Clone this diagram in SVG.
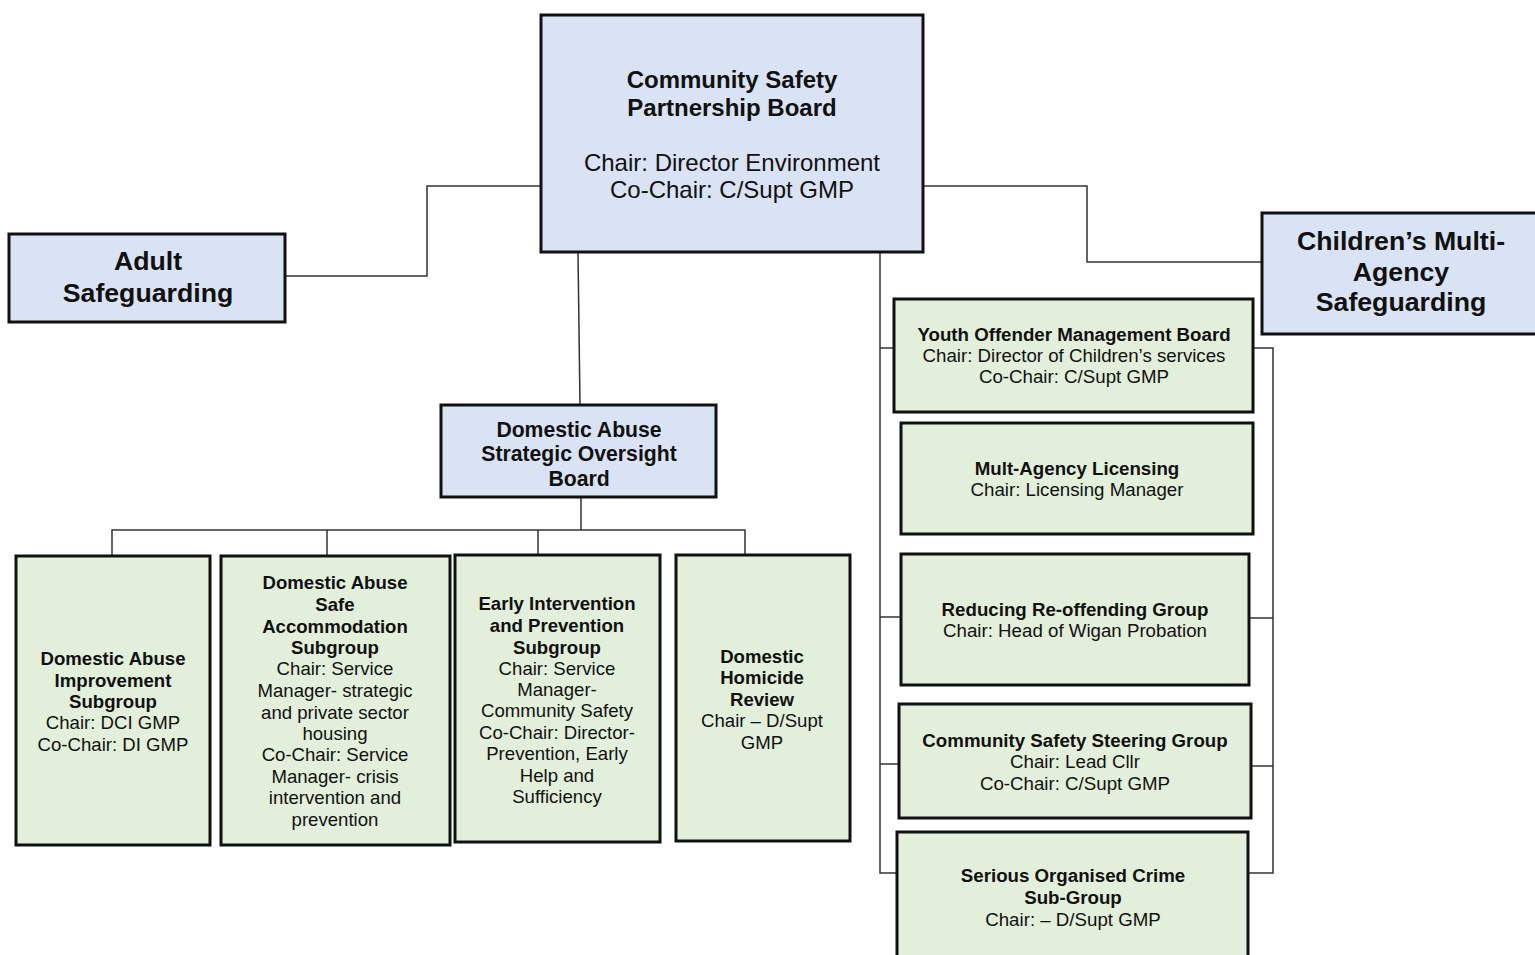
<svg xmlns="http://www.w3.org/2000/svg" width="1535" height="955" viewBox="0 0 1535 955">
<style>
  .blue{fill:#dae3f3;stroke:#111;stroke-width:3}
  .green{fill:#e2efda;stroke:#111;stroke-width:3}
  .conn{fill:none;stroke:#333;stroke-width:1.5}
  text{font-family:"Liberation Sans",Arial,sans-serif;fill:#111;text-anchor:middle}
  .b{font-weight:bold}
  .t26{font-size:26.7px}
  .t22{font-size:24px}
  .t20{font-size:21.2px}
  .t18{font-size:18.6px}
  .t17{font-size:18.7px}
</style>
<rect width="1535" height="955" fill="#fff"/>
<g id="connectors">
  <polyline class="conn" points="286,276 427,276 427,186 541,186"/>
  <polyline class="conn" points="923,186 1087,186 1087,262 1262,262"/>
  <line class="conn" x1="578" y1="253" x2="580" y2="405"/>
  <line class="conn" x1="581" y1="498" x2="581" y2="530"/>
  <polyline class="conn" points="112,556 112,530 745,530 745,555"/>
  <line class="conn" x1="327" y1="530" x2="327" y2="556"/>
  <line class="conn" x1="538" y1="530" x2="538" y2="555"/>
  <polyline class="conn" points="880,253 880,873 897,873"/>
  <line class="conn" x1="880" y1="348" x2="894" y2="348"/>
  <line class="conn" x1="880" y1="617" x2="901" y2="617"/>
  <line class="conn" x1="880" y1="764" x2="899" y2="764"/>
  <polyline class="conn" points="1253,348 1273,348 1273,873 1248,873"/>
  <line class="conn" x1="1249" y1="618" x2="1273" y2="618"/>
  <line class="conn" x1="1251" y1="766" x2="1273" y2="766"/>
</g>
<g id="csp-board">
  <rect class="blue" x="541" y="15" width="382" height="237"/>
  <text class="t22"><tspan class="b" x="732" y="88">Community Safety</tspan><tspan class="b" x="732" y="116">Partnership Board</tspan><tspan x="732" y="171">Chair: Director Environment</tspan><tspan x="732" y="198">Co-Chair: C/Supt GMP</tspan></text>
</g>
<g id="adult-safeguarding">
  <rect class="blue" x="9" y="234" width="276" height="88"/>
  <text class="t26 b"><tspan x="148" y="270">Adult</tspan><tspan x="148" y="302">Safeguarding</tspan></text>
</g>
<g id="childrens-safeguarding">
  <rect class="blue" x="1262" y="213" width="280" height="121"/>
  <text class="t26 b"><tspan x="1401" y="250">Children’s Multi-</tspan><tspan x="1401" y="281">Agency</tspan><tspan x="1401" y="311">Safeguarding</tspan></text>
</g>
<g id="dasob">
  <rect class="blue" x="441" y="405" width="275" height="92"/>
  <text class="t20 b"><tspan x="579" y="437">Domestic Abuse</tspan><tspan x="579" y="461">Strategic Oversight</tspan><tspan x="579" y="486">Board</tspan></text>
</g>
<g id="dais">
  <rect class="green" x="16" y="556" width="194" height="289"/>
  <text class="t18"><tspan class="b" x="113" y="665">Domestic Abuse</tspan><tspan class="b" x="113" y="687">Improvement</tspan><tspan class="b" x="113" y="708">Subgroup</tspan><tspan x="113" y="729">Chair: DCI GMP</tspan><tspan x="113" y="751">Co-Chair: DI GMP</tspan></text>
</g>
<g id="dasas">
  <rect class="green" x="221" y="556" width="229" height="289"/>
  <text class="t18"><tspan class="b" x="335" y="589">Domestic Abuse</tspan><tspan class="b" x="335" y="611">Safe</tspan><tspan class="b" x="335" y="633">Accommodation</tspan><tspan class="b" x="335" y="654">Subgroup</tspan><tspan x="335" y="675">Chair: Service</tspan><tspan x="335" y="697">Manager- strategic</tspan><tspan x="335" y="719">and private sector</tspan><tspan x="335" y="740">housing</tspan><tspan x="335" y="761">Co-Chair: Service</tspan><tspan x="335" y="783">Manager- crisis</tspan><tspan x="335" y="804">intervention and</tspan><tspan x="335" y="826">prevention</tspan></text>
</g>
<g id="eips">
  <rect class="green" x="455" y="555" width="205" height="287"/>
  <text class="t18"><tspan class="b" x="557" y="610">Early Intervention</tspan><tspan class="b" x="557" y="632">and Prevention</tspan><tspan class="b" x="557" y="654">Subgroup</tspan><tspan x="557" y="675">Chair: Service</tspan><tspan x="557" y="696">Manager-</tspan><tspan x="557" y="717">Community Safety</tspan><tspan x="557" y="739">Co-Chair: Director-</tspan><tspan x="557" y="760">Prevention, Early</tspan><tspan x="557" y="782">Help and</tspan><tspan x="557" y="803">Sufficiency</tspan></text>
</g>
<g id="dhr">
  <rect class="green" x="676" y="555" width="174" height="286"/>
  <text class="t18"><tspan class="b" x="762" y="663">Domestic</tspan><tspan class="b" x="762" y="684">Homicide</tspan><tspan class="b" x="762" y="706">Review</tspan><tspan x="762" y="727">Chair – D/Supt</tspan><tspan x="762" y="749">GMP</tspan></text>
</g>
<g id="yomb">
  <rect class="green" x="894" y="299" width="359" height="113"/>
  <text class="t17"><tspan class="b" x="1074" y="341">Youth Offender Management Board</tspan><tspan x="1074" y="362">Chair: Director of Children’s services</tspan><tspan x="1074" y="383">Co-Chair: C/Supt GMP</tspan></text>
</g>
<g id="mal">
  <rect class="green" x="901" y="423" width="352" height="111"/>
  <text class="t17"><tspan class="b" x="1077" y="475">Mult-Agency Licensing</tspan><tspan x="1077" y="496">Chair: Licensing Manager</tspan></text>
</g>
<g id="rrg">
  <rect class="green" x="901" y="554" width="348" height="131"/>
  <text class="t17"><tspan class="b" x="1075" y="616">Reducing Re-offending Group</tspan><tspan x="1075" y="637">Chair: Head of Wigan Probation</tspan></text>
</g>
<g id="cssg">
  <rect class="green" x="899" y="704" width="352" height="114"/>
  <text class="t17"><tspan class="b" x="1075" y="747">Community Safety Steering Group</tspan><tspan x="1075" y="768">Chair: Lead Cllr</tspan><tspan x="1075" y="790">Co-Chair: C/Supt GMP</tspan></text>
</g>
<g id="socg">
  <rect class="green" x="897" y="832" width="351" height="140"/>
  <text class="t17"><tspan class="b" x="1073" y="882">Serious Organised Crime</tspan><tspan class="b" x="1073" y="904">Sub-Group</tspan><tspan x="1073" y="926">Chair: – D/Supt GMP</tspan></text>
</g>
</svg>
